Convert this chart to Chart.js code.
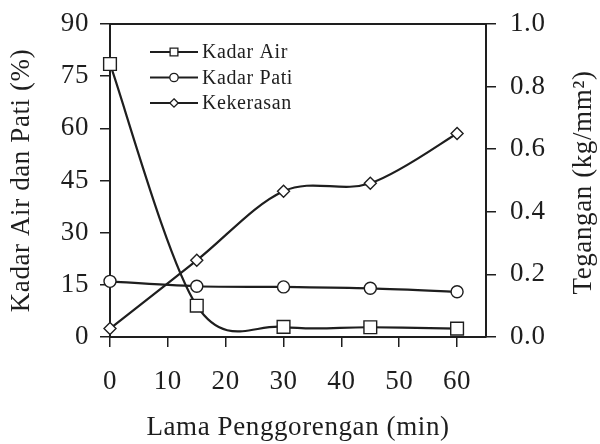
<!DOCTYPE html>
<html><head><meta charset="utf-8">
<script src="https://cdn.jsdelivr.net/npm/chart.js@4/dist/chart.umd.min.js"></script>
<style>html,body{margin:0;padding:0;background:#fff}#wrap{width:600px;height:444px}</style>
</head><body><div id="wrap"><canvas id="c" width="600" height="444"></canvas></div>
<script>
const minutes = [0, 15, 30, 45, 60];
const kadarAir = [78.5, 9.0, 2.9, 2.8, 2.4];
const kadarPati = [16.0, 14.6, 14.4, 14.0, 13.0];
const kekerasan = [0.027, 0.245, 0.466, 0.491, 0.65];
const seriesLabels = ['Kadar Air', 'Kadar Pati', 'Kekerasan'];
const xTicks = [0, 10, 20, 30, 40, 50, 60];
const leftTicks = [0, 15, 30, 45, 60, 75, 90];
const rightTicks = [0, 0.2, 0.4, 0.6, 0.8, 1.0];
const xTitle = 'Lama Penggorengan (min)';
const leftTitle = 'Kadar Air dan Pati (%)';
const rightTitle = 'Tegangan (kg/mm\u00B2)';

const INK = '#1e1e1e';
const FONT = 'Liberation Serif';
const SPACING = '0.6px';

function pts(vals) { return minutes.map((m, i) => ({x: m, y: vals[i]})); }

const spacingPlugin = {
  id: 'spacing',
  beforeDraw(chart) { chart.ctx.letterSpacing = SPACING; }
};

// Catmull-Rom style smoothing (like spreadsheet "smoothed line")
const smoothPlugin = {
  id: 'smooth',
  beforeDatasetsDraw(chart) {
    chart.data.datasets.forEach((ds, di) => {
      const meta = chart.getDatasetMeta(di);
      if (!meta.dataset) return;
      meta.dataset.updateControlPoints(chart.chartArea, 'x');
      const p = meta.data;
      const n = p.length;
      for (let i = 0; i < n; i++) {
        const prev = p[Math.max(i - 1, 0)], next = p[Math.min(i + 1, n - 1)];
        const tx = (next.x - prev.x) / 6, ty = (next.y - prev.y) / 6;
        p[i].cp1x = p[i].x - tx; p[i].cp1y = p[i].y - ty;
        p[i].cp2x = p[i].x + tx; p[i].cp2y = p[i].y + ty;
      }
    });
  }
};

function drawMarker(ctx, style, x, y, r) {
  ctx.beginPath();
  if (style === 'rect') {
    const s = r * Math.SQRT1_2;
    ctx.rect(x - s, y - s, 2 * s, 2 * s);
  } else if (style === 'circle') {
    ctx.arc(x, y, r, 0, Math.PI * 2);
  } else {
    ctx.moveTo(x, y - r); ctx.lineTo(x + r, y); ctx.lineTo(x, y + r); ctx.lineTo(x - r, y); ctx.closePath();
  }
  ctx.fill(); ctx.stroke();
}

const decorPlugin = {
  id: 'decor',
  afterDraw(chart) {
    const {ctx, chartArea: a} = chart;
    ctx.save();
    ctx.strokeStyle = INK; ctx.lineWidth = 2;
    ctx.beginPath(); ctx.moveTo(a.left, a.top); ctx.lineTo(a.right, a.top); ctx.stroke();
    const legendR = {rect: 5.5, circle: 4.2, rectRot: 4.2};
    chart.data.datasets.forEach((ds, i) => {
      const y = a.top + 28 + i * 25.5;
      const x0 = a.left + 40, x1 = a.left + 88;
      ctx.strokeStyle = INK; ctx.lineWidth = 2.2;
      ctx.beginPath(); ctx.moveTo(x0, y); ctx.lineTo(x1, y); ctx.stroke();
      ctx.fillStyle = '#fff'; ctx.lineWidth = 1.3;
      drawMarker(ctx, ds.pointStyle, (x0 + x1) / 2, y, legendR[ds.pointStyle]);
      ctx.fillStyle = INK;
      ctx.font = '20px "' + FONT + '"';
      ctx.letterSpacing = SPACING;
      ctx.textAlign = 'left'; ctx.textBaseline = 'middle';
      ctx.fillText(ds.label, x1 + 4, y + 1);
    });
    ctx.translate(584, (a.top + a.bottom) / 2 + 2);
    ctx.rotate(-Math.PI / 2);
    ctx.font = '27px "' + FONT + '"';
    ctx.textAlign = 'center'; ctx.textBaseline = 'middle';
    ctx.fillStyle = INK;
    ctx.fillText(rightTitle, 0, 0);
    ctx.restore();
  }
};

const tickFont = {family: FONT, size: 27};
const commonDs = {borderColor: INK, borderWidth: 2.2, pointBackgroundColor: '#fff', pointBorderColor: INK,
  pointBorderWidth: 1.4, tension: 0.4, capBezierPoints: false, clip: false, fill: false};

function fixV(width) {
  return s => { s.width = width; s.paddingTop = 0; s.paddingBottom = 0; };
}

new Chart(document.getElementById('c'), {
  type: 'line',
  data: {
    datasets: [
      Object.assign({label: seriesLabels[0], data: pts(kadarAir), yAxisID: 'y', pointStyle: 'rect', pointRadius: 9}, commonDs),
      Object.assign({label: seriesLabels[1], data: pts(kadarPati), yAxisID: 'y', pointStyle: 'circle', pointRadius: 6}, commonDs),
      Object.assign({label: seriesLabels[2], data: pts(kekerasan), yAxisID: 'y1', pointStyle: 'rectRot', pointRadius: 6}, commonDs)
    ]
  },
  options: {
    responsive: false, animation: false, devicePixelRatio: 1,
    layout: {padding: {top: 24, left: 0, right: 0, bottom: 0}},
    plugins: {legend: {display: false}, tooltip: {enabled: false}},
    scales: {
      x: {
        type: 'linear', position: 'bottom', min: 0, max: 65,
        afterBuildTicks: s => { s.ticks = xTicks.map(v => ({value: v})); },
        afterFit: s => { s.height = 107; s.paddingLeft = 0; s.paddingRight = 0; },
        grid: {drawOnChartArea: false, drawTicks: true, tickLength: 10, color: INK, lineWidth: 1.5},
        border: {display: true, color: INK, width: 2},
        ticks: {font: tickFont, color: INK, padding: 19, maxRotation: 0, autoSkip: false},
        title: {display: true, text: xTitle, font: tickFont, color: INK, padding: {top: 0, bottom: 0}}
      },
      y: {
        position: 'left', min: 0, max: 90,
        afterBuildTicks: s => { s.ticks = leftTicks.map(v => ({value: v})); },
        afterFit: fixV(110),
        grid: {drawOnChartArea: false, drawTicks: true, tickLength: 10, color: INK, lineWidth: 1.5},
        border: {display: true, color: INK, width: 2},
        ticks: {font: tickFont, color: INK, padding: 11, autoSkip: false},
        title: {display: true, text: leftTitle, font: tickFont, color: INK, padding: {top: 6, bottom: 0}}
      },
      y1: {
        position: 'right', min: 0, max: 1,
        afterBuildTicks: s => { s.ticks = rightTicks.map(v => ({value: v})); },
        afterFit: fixV(114),
        grid: {drawOnChartArea: false, drawTicks: true, tickLength: 10, color: INK, lineWidth: 1.5},
        border: {display: true, color: INK, width: 2},
        ticks: {font: tickFont, color: INK, padding: 14, autoSkip: false, callback: v => Number(v).toFixed(1)}
      }
    }
  },
  plugins: [spacingPlugin, smoothPlugin, decorPlugin]
});
</script>
</body></html>
